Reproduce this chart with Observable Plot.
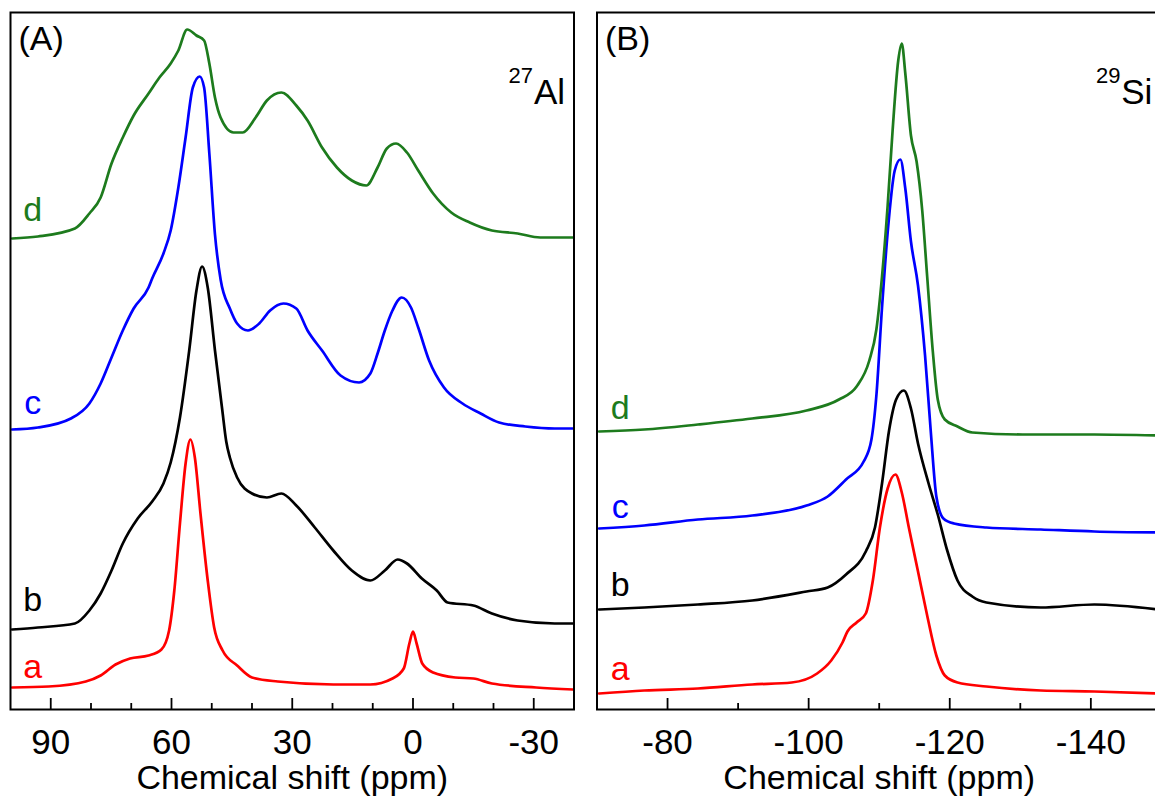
<!DOCTYPE html>
<html><head><meta charset="utf-8">
<script src="https://cdn.jsdelivr.net/npm/d3@7"></script>
<script src="https://cdn.jsdelivr.net/npm/@observablehq/plot@0.6"></script>
<style>
html,body{margin:0;padding:0;background:#fff;overflow:hidden;}
#wrap{position:relative;width:1155px;height:797px;overflow:hidden;background:#fff;}
#wrap svg{position:absolute;top:0;}
</style></head><body><div id="wrap"></div>
<script>
// ---------- Panel A: 27Al spectra (ppm, intensity incl. vertical offset, a.u.) ----------
const alPpmA = [99.6,90.5,81.3,77.6,73.9,70.3,65.7,62.5,60.6,59.3,57.9,56.5,55.3,54.2,52.8,51.0,49.4,47.3,43.7,40.0,33.6,19.8,10.6,5.1,2.3,0.9,0,-0.9,-2.3,-5,-10.5,-15,-19.6,-30.6,-39.8];
const alIntA = [22,23,28,34,45,51,54,60,79,119,186,246,270,252,196,129,82,59,44,32,28,25,25,31,41,66,78,66,46,37,32,31,26,22,20];

const alPpmB = [99.6,93.2,84,80.4,77.6,74.9,72.1,68.4,64.8,62,60.2,57.9,55.6,53.8,52.4,51.0,49.2,47.4,46.4,45.5,43.7,40,36.3,32.7,29,24.4,19.8,15.2,10.6,7,3.8,1.5,-2.2,-5.9,-8.6,-15,-19.6,-26,-35.2,-39.8];
const alIntB = [80,82,86,99,116,139,166,191,208,226,247,292,359,419,443,422,359,300,268,252,232,216,212,216,204,182,159,139,129,139,150,146,131,119,107,104,96,89,86,86];

const alPpmC = [99.6,93.2,85,80.4,77.6,74.9,72.1,69.4,65.7,64.8,62,60.2,58.3,56.5,54.7,53,51.9,50.6,49.2,47.8,45.5,43.7,41,38.2,35.5,32.2,29,26.2,22.6,18,13.4,10.6,8.8,7,5.1,2.8,0.5,-1.3,-4,-7.7,-12.3,-16.8,-21.4,-27.9,-35.2,-39.8];
const alIntC = [280,282,291,306,326,352,379,401,422,431,456,479,522,572,622,633,622,556,475,430,401,386,379,386,399,406,401,379,359,334,327,336,356,379,399,412,402,382,349,322,306,296,287,283,281,281];

const alPpmD = [99.6,93.2,84,80.4,77.6,74.9,72.1,69.4,65.7,63,60.2,58.3,56.1,53.8,51.9,50.6,49.2,47.8,44.6,42.3,39.1,36.3,32.7,29,26.2,22.6,18.9,15.2,11.6,8.8,6.5,4.2,1.5,-1.3,-5,-9.5,-14.1,-19.6,-26,-31.6,-39.8];
const alIntD = [471,473,481,496,512,546,572,594,616,632,646,659,680,674,669,646,612,592,577,577,592,609,617,604,589,562,542,529,524,542,561,566,557,539,516,497,487,479,476,472,472];

// ---------- Panel B: 29Si spectra ----------
const siPpmA = [-70.3,-76.7,-84.3,-92,-97.6,-101.2,-103.2,-104.8,-105.5,-106.8,-108.1,-109.1,-110.1,-111.2,-112.3,-113.2,-114.2,-115.5,-116.8,-118.1,-119.3,-121.1,-125.2,-132.9,-140.5,-149.5];
const siIntA = [16,19,21,25,27,36,49,67,78,87,96,129,182,221,235,217,182,138,94,54,34,27,23,19,18,16];

const siPpmB = [-70.3,-76.7,-84.3,-92,-99.7,-102.7,-105.3,-108.1,-109.4,-110.4,-111.4,-112.4,-113.5,-114.5,-115.5,-117,-118.3,-119.6,-121.1,-123.2,-125.2,-132.9,-140.5,-149.5];
const siIntB = [100,102,105,109,118,122,135,158,182,226,279,310,319,301,266,226,195,160,129,113,107,102,105,100];

const siPpmC = [-70.3,-76.7,-84.3,-92,-99.7,-102.7,-105.3,-107.8,-108.9,-109.6,-110.4,-111.2,-112.2,-113,-113.7,-114.5,-115.5,-116.5,-117.3,-118.1,-119.1,-120.6,-125.2,-132.9,-140.5,-149.5];
const siIntC = [181,184,190,194,204,213,230,248,270,314,402,477,539,550,521,468,424,354,279,213,191,186,182,180,178,177];

const siPpmD = [-70.3,-76.7,-84.3,-92,-99.7,-104.3,-106.8,-108.6,-109.6,-110.4,-111.2,-111.9,-112.7,-113.2,-113.7,-114.5,-115.3,-116.1,-116.8,-117.6,-118.3,-119.3,-121.1,-123.2,-130.3,-140.5,-149.5];
const siIntD = [278,280,285,291,299,310,323,349,380,433,504,579,649,666,636,574,548,499,433,358,310,290,283,277,275,275,274];

// series labels and colours
const seriesNames = ["a","b","c","d"];
const seriesColors = ["#ff0000","#000000","#0000ff","#1d7b1d"];

// label placement (ppm, intensity)
const alLabelPpm = [94.5,94.5,94.5,94.5];
const alLabelInt = [42,109,306,499];
const siLabelPpm = [-73.3,-73.3,-73.3,-73.3];
const siLabelInt = [40,124,202,301];

// ticks
const alMajor = [90,60,30,0,-30];
const alMinor = [80,70,50,40,20,10,-10,-20];
const siMajor = [-80,-100,-120,-140];
const siMinor = [-90,-110,-130];

const font = '"Liberation Sans", Arial, sans-serif';

function rows(ppmArrs, intArrs) {
  const out = [];
  seriesNames.forEach((s, k) => ppmArrs[k].forEach((p, i) => out.push({ppm: p, v: intArrs[k][i], s})));
  return out;
}
const dataAl = rows([alPpmA, alPpmB, alPpmC, alPpmD], [alIntA, alIntB, alIntC, alIntD]);
const dataSi = rows([siPpmA, siPpmB, siPpmC, siPpmD], [siIntA, siIntB, siIntC, siIntD]);
const labelsAl = seriesNames.map((s, i) => ({s, ppm: alLabelPpm[i], v: alLabelInt[i]}));
const labelsSi = seriesNames.map((s, i) => ({s, ppm: siLabelPpm[i], v: siLabelInt[i]}));

const H = 797, MT = 12, MB = 88, PH = H - MT - MB;

function panel({data, labels, domain, major, minor, width, ml, mr, tag, nucNum, nucSym}) {
  return Plot.plot({
    width, height: H, marginLeft: ml, marginRight: mr, marginTop: MT, marginBottom: MB,
    x: {domain},
    y: {domain: [0, 697], axis: null},
    color: {domain: seriesNames, range: seriesColors},
    style: {fontFamily: font, color: "#000", background: "transparent", overflow: "visible"},
    marks: [
      Plot.ruleX(major, {insetTop: PH - 11, stroke: "#000", strokeWidth: 1.8}),
      Plot.ruleX(minor, {insetTop: PH - 6, stroke: "#000", strokeWidth: 1.8}),
      Plot.axisX(major, {tickSize: 0, tickPadding: 20, fontSize: 35, label: null, tickFormat: d => String(d)}),
      Plot.text(["Chemical shift (ppm)"], {frameAnchor: "bottom", lineAnchor: "top", dy: 55, fontSize: 34}),
      Plot.line(data, {x: "ppm", y: "v", z: "s", stroke: "s", curve: "monotone-x", strokeWidth: 2.7}),
      Plot.text(labels, {x: "ppm", y: "v", text: "s", fill: "s", fontSize: 34, textAnchor: "middle", lineAnchor: "middle"}),
      Plot.text([tag], {frameAnchor: "top-left", dx: 8, dy: 27, fontSize: 34, textAnchor: "start", lineAnchor: "middle"}),
      Plot.text([nucSym], {frameAnchor: "top-right", dx: -9, dy: 80, fontSize: 35, textAnchor: "end", lineAnchor: "middle"}),
      Plot.text([nucNum], {frameAnchor: "top-right", dx: -41, dy: 63, fontSize: 22, textAnchor: "end", lineAnchor: "middle"}),
      Plot.frame({stroke: "#000", strokeWidth: 2})
    ]
  });
}

const wrap = document.getElementById("wrap");
const pA = panel({data: dataAl, labels: labelsAl, domain: [100, -40], major: alMajor, minor: alMinor,
  width: 585, ml: 10, mr: 11.5, tag: "(A)", nucNum: "27", nucSym: "Al"});
pA.style.left = "0px";
wrap.appendChild(pA);
const pB = panel({data: dataSi, labels: labelsSi, domain: [-70, -150], major: siMajor, minor: siMinor,
  width: 600, ml: 11.5, mr: 24.1, tag: "(B)", nucNum: "29", nucSym: "Si"});
pB.style.left = "585px";
wrap.appendChild(pB);
</script>
</body></html>
